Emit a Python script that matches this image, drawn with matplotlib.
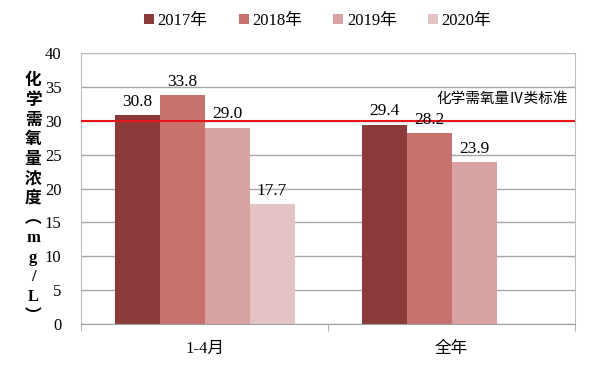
import numpy as np
import matplotlib.pyplot as plt

plt.rcParams['font.family'] = ['Liberation Serif', 'Noto Sans CJK SC']

categories = ['1-4月', '全年']
years = ['2017年', '2018年', '2019年', '2020年']
v2017 = [30.8, 29.4]
v2018 = [33.8, 28.2]
v2019 = [29.0, 23.9]
v2020 = [17.7, np.nan]
standard = 30
standard_label = '化学需氧量Ⅳ类标准'
ylabel = '化学需氧量浓度︵mg/L︶'

colors = ['#8B3A3A', '#C87270', '#D9A2A2', '#E4C3C4']
series = [v2017, v2018, v2019, v2020]

fig = plt.figure(figsize=(5.99, 3.70), dpi=100)
ax = fig.add_axes([81/599, 1-324/370, (575-81)/599, (324-53)/370])

x = np.arange(len(categories))
w = 45/247
for i, (vals, c, lab) in enumerate(zip(series, colors, years)):
    pos = x + (i - 1.5)*w
    ax.bar(pos, vals, w, color=c, label=lab, zorder=2)
    for p, v in zip(pos, vals):
        if not np.isnan(v):
            ax.text(p, v + 0.8, f'{v:.1f}', ha='center', va='bottom',
                    fontsize=12.5, zorder=4)

ax.axhline(standard, color='#E8161B', lw=1.5, zorder=3)
ax.text(0.985, standard + 2.2, standard_label, transform=ax.get_yaxis_transform(),
        ha='right', va='bottom', fontsize=10.5, zorder=4)

ax.set_xlim(-0.5, 1.5)
ax.set_ylim(0, 40)
ax.set_yticks(range(0, 41, 5))
ax.tick_params(axis='y', length=0, labelsize=12, pad=14)
ax.set_xticks(x)
ax.set_xticklabels(categories, fontsize=12)
ax.set_xticks([-0.5, 0.5, 1.5], minor=True)
ax.tick_params(axis='x', which='major', length=0, pad=12)
ax.tick_params(axis='x', which='minor', length=5, color='#A0A0A0')
ax.yaxis.grid(True, color='#A6A6A6', lw=1, zorder=0)
for s in ax.spines.values():
    s.set_color('#BDBDBD')
ax.spines['bottom'].set_color('#A0A0A0')

fig.text(33/599, 1-199/370, '\n'.join(ylabel), ha='center', va='center',
         fontsize=12, fontweight='bold', linespacing=1.3)

fig.legend(loc='center', bbox_to_anchor=(0.53, 1-21/370), ncol=4, frameon=False,
           fontsize=12, handlelength=0.6, handleheight=0.6, handletextpad=0.2,
           columnspacing=1.9)

fig.savefig('out.png', dpi=100)
